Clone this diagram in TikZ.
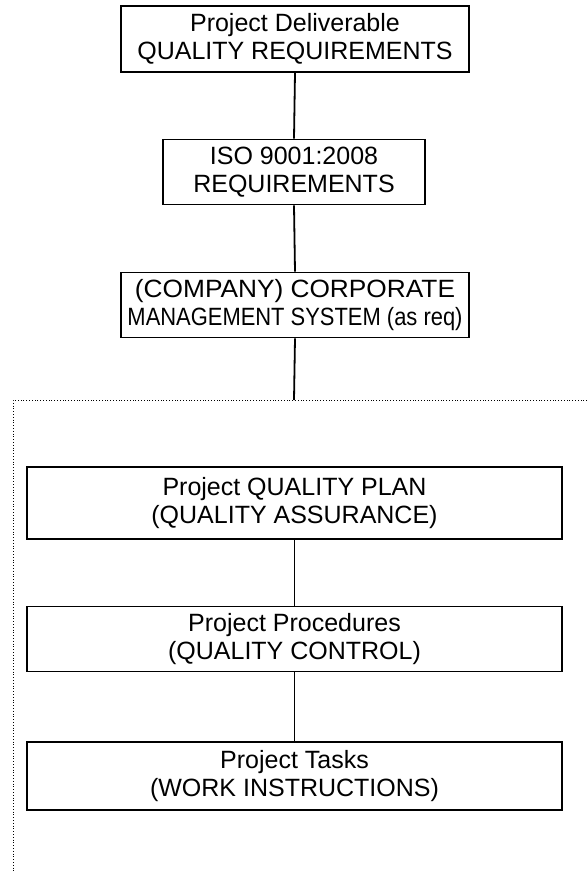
\documentclass[tikz,border=0pt]{standalone}
\usepackage{fontspec}
\usepackage{graphicx}
\setmainfont{Liberation Sans}
\newcommand{\fitw}[2]{\resizebox{#1}{\height}{#2}}
\begin{document}
\begin{tikzpicture}[x=1pt,y=-1pt,
  qbox/.style={draw=black,line width=1.8pt,rectangle,inner sep=0pt,align=center,
    font=\fontsize{25}{28.5}\selectfont},
  conn/.style={draw=black,line width=1.8pt},
  frame/.style={draw=black,line width=0.8pt,dotted}]
\useasboundingbox (0,0) rectangle (587,873);
\node[qbox,minimum width=348pt,minimum height=66pt] (b1) at (295,39) {Project Deliverable\\QUALITY REQUIREMENTS};
\node[qbox,minimum width=262pt,minimum height=65pt] (b2) at (294,172) {ISO 9001:2008\\REQUIREMENTS};
\node[qbox,minimum width=348pt,minimum height=65pt] (b3) at (295,305) {\fitw{320pt}{(COMPANY) CORPORATE}\\\fitw{335pt}{MANAGEMENT SYSTEM (as req)}};
\coordinate (ftl) at (13,400);
\coordinate (ftr) at (587,400);
\coordinate (fbl) at (13,873);
\coordinate (fj) at (294,400);
\draw[frame] (ftr) -- (ftl) -- (fbl);
\node[qbox,minimum width=535pt,minimum height=72pt] (b4) at (294.5,503) {Project QUALITY PLAN\\(QUALITY ASSURANCE)};
\node[qbox,minimum width=535pt,minimum height=65pt] (b5) at (294.5,639) {Project Procedures\\(QUALITY CONTROL)};
\node[qbox,minimum width=535pt,minimum height=68pt] (b6) at (294.5,776) {Project Tasks\\(WORK INSTRUCTIONS)};
\draw[conn] (b1.south) -- (b2.north);
\draw[conn] (b2.south) -- (b3.north);
\draw[conn] (b3.south) -- (fj);
\draw[conn] (b4.south) -- (b5.north);
\draw[conn] (b5.south) -- (b6.north);
\end{tikzpicture}
\end{document}
